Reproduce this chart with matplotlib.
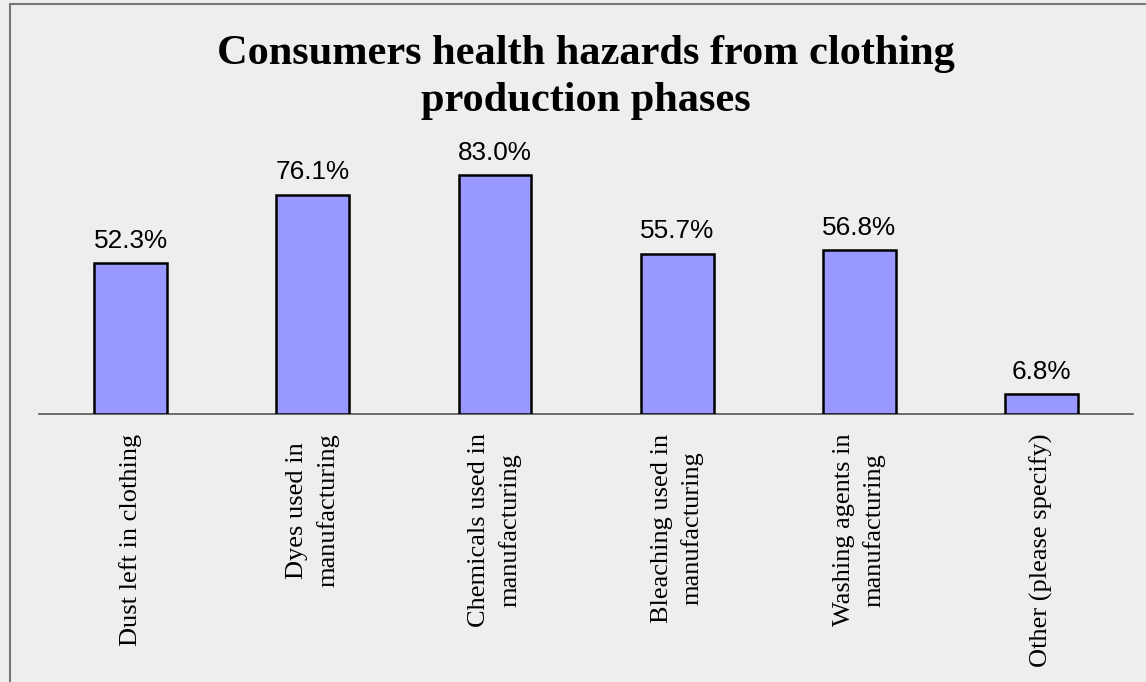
import matplotlib.pyplot as plt
from matplotlib.patches import Rectangle

categories = [
    "Dust left in clothing",
    "Dyes used in\nmanufacturing",
    "Chemicals used in\nmanufacturing",
    "Bleaching used in\nmanufacturing",
    "Washing agents in\nmanufacturing",
    "Other (please specify)",
]
shares = [52.3, 76.1, 83.0, 55.7, 56.8, 6.8]

BG = "#eeeeee"
BAR = "#9999ff"

fig = plt.figure(figsize=(11.46, 6.82), dpi=100, facecolor=BG)
# outer frame, open on the right and bottom
fig.patches.append(Rectangle((10 / 1146, -0.1), 1.2, (678 / 682) + 0.1,
                             transform=fig.transFigure, fill=False,
                             edgecolor="#777777", lw=1.5))

ax = fig.add_axes([39.5 / 1146, 1 - 414 / 682, (1132.6 - 39.5) / 1146, 288 / 682])
ax.set_facecolor(BG)
x = range(len(categories))
ax.bar(x, shares, width=0.4, color=BAR, edgecolor="black", lw=1.8, zorder=3)
ax.set_xlim(-0.5, len(categories) - 0.5)
ax.set_ylim(0, 100)

for xi, v in zip(x, shares):
    ax.annotate(f"{v:.1f}%", (xi, v), xytext=(0, 7.5), textcoords="offset points",
                ha="center", va="bottom", fontsize=18.8, family="Liberation Sans")

for s in ["top", "right", "left"]:
    ax.spines[s].set_visible(False)
ax.spines["bottom"].set_color("#555555")
ax.spines["bottom"].set_linewidth(1.2)
ax.set_yticks([])
ax.set_xticks(list(x))
ax.set_xticklabels(categories, rotation=90, family="Liberation Serif", fontsize=19,
                   va="top", ha="center", linespacing=1.45)
ax.tick_params(axis="x", length=0, pad=14)

fig.text(586 / 1146, 1 - 111 / 682, "Consumers health hazards from clothing\nproduction phases",
         ha="center", va="baseline", fontsize=30.5, fontweight="bold",
         family="Liberation Serif", linespacing=1.3)

fig.savefig("out.png", dpi=100, facecolor=BG)
